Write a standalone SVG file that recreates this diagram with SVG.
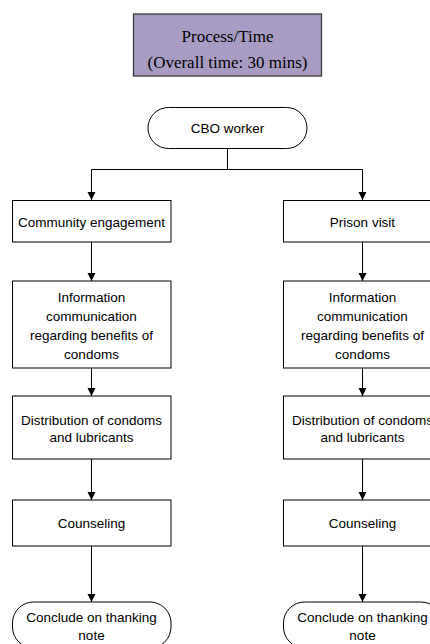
<svg xmlns="http://www.w3.org/2000/svg" width="430" height="644" viewBox="0 0 430 644">
<defs>
<style>
.box{fill:#fff;stroke:#000;stroke-width:1}
.title{fill:#A89CC5;stroke:#3a3a3a;stroke-width:1.3}
.t{font-family:"Liberation Sans",Arial,sans-serif;font-size:13.5px;fill:#000;text-anchor:middle}
.ts{font-family:"Liberation Serif","Times New Roman",serif;font-size:17px;fill:#000;text-anchor:middle}
.ln{fill:none;stroke:#000;stroke-width:1}
</style>
<marker id="ah" markerWidth="8" markerHeight="9" refX="8" refY="4" orient="auto" markerUnits="userSpaceOnUse">
<path d="M0,0 L8,4 L0,8 Z" fill="#000"/>
</marker>
</defs>
<rect width="430" height="644" fill="#fff"/>
<g id="title">
<rect class="title" x="133.5" y="14" width="188" height="62"/>
<text class="ts" x="227.5" y="41.5">Process/Time</text>
<text class="ts" x="227.5" y="67.5">(Overall time: 30 mins)</text>
</g>
<g id="connectors">
<path class="ln" d="M227.5,148 V169.5"/>
<path class="ln" d="M91.5,169.5 H362.5"/>
<path class="ln" d="M91.5,169.5 V200" marker-end="url(#ah)"/>
<path class="ln" d="M362.5,169.5 V200" marker-end="url(#ah)"/>
<path class="ln" d="M91.5,242 V281" marker-end="url(#ah)"/>
<path class="ln" d="M91.5,368 V396" marker-end="url(#ah)"/>
<path class="ln" d="M91.5,459 V500" marker-end="url(#ah)"/>
<path class="ln" d="M91.5,546 V602" marker-end="url(#ah)"/>
<path class="ln" d="M362.5,242 V281" marker-end="url(#ah)"/>
<path class="ln" d="M362.5,368 V396" marker-end="url(#ah)"/>
<path class="ln" d="M362.5,459 V500" marker-end="url(#ah)"/>
<path class="ln" d="M362.5,546 V602" marker-end="url(#ah)"/>
</g>
<g id="cbo">
<rect class="box" x="148" y="107.5" width="159" height="41" rx="20.5"/>
<text class="t" x="227.5" y="133">CBO worker</text>
</g>
<g id="community">
<rect class="box" x="12.5" y="200.5" width="158.5" height="41.5"/>
<text class="t" x="91.5" y="226.5">Community engagement</text>
</g>
<g id="prison">
<rect class="box" x="283.5" y="200.5" width="158.5" height="41.5"/>
<text class="t" x="362.5" y="226.5">Prison visit</text>
</g>
<g id="info-left">
<rect class="box" x="12.5" y="281" width="158.5" height="87"/>
<text class="t" x="91.5" y="301.5">Information</text>
<text class="t" x="91.5" y="320.5">communication</text>
<text class="t" x="91.5" y="339.5">regarding benefits of</text>
<text class="t" x="91.5" y="358.5">condoms</text>
</g>
<g id="info-right">
<rect class="box" x="283.5" y="281" width="158.5" height="87"/>
<text class="t" x="362.5" y="301.5">Information</text>
<text class="t" x="362.5" y="320.5">communication</text>
<text class="t" x="362.5" y="339.5">regarding benefits of</text>
<text class="t" x="362.5" y="358.5">condoms</text>
</g>
<g id="dist-left">
<rect class="box" x="12.5" y="396" width="158.5" height="63"/>
<text class="t" x="91.5" y="424.5">Distribution of condoms</text>
<text class="t" x="91.5" y="442">and lubricants</text>
</g>
<g id="dist-right">
<rect class="box" x="283.5" y="396" width="158.5" height="63"/>
<text class="t" x="362.5" y="424.5">Distribution of condoms</text>
<text class="t" x="362.5" y="442">and lubricants</text>
</g>
<g id="counsel-left">
<rect class="box" x="12.5" y="500" width="158.5" height="46"/>
<text class="t" x="91.5" y="528">Counseling</text>
</g>
<g id="counsel-right">
<rect class="box" x="283.5" y="500" width="158.5" height="46"/>
<text class="t" x="362.5" y="528">Counseling</text>
</g>
<g id="conclude-left">
<rect class="box" x="12.5" y="602" width="158.5" height="46" rx="21"/>
<text class="t" x="91.5" y="621.5">Conclude on thanking</text>
<text class="t" x="91.5" y="640">note</text>
</g>
<g id="conclude-right">
<rect class="box" x="283.5" y="602" width="158.5" height="46" rx="21"/>
<text class="t" x="362.5" y="621.5">Conclude on thanking</text>
<text class="t" x="362.5" y="640">note</text>
</g>
</svg>
